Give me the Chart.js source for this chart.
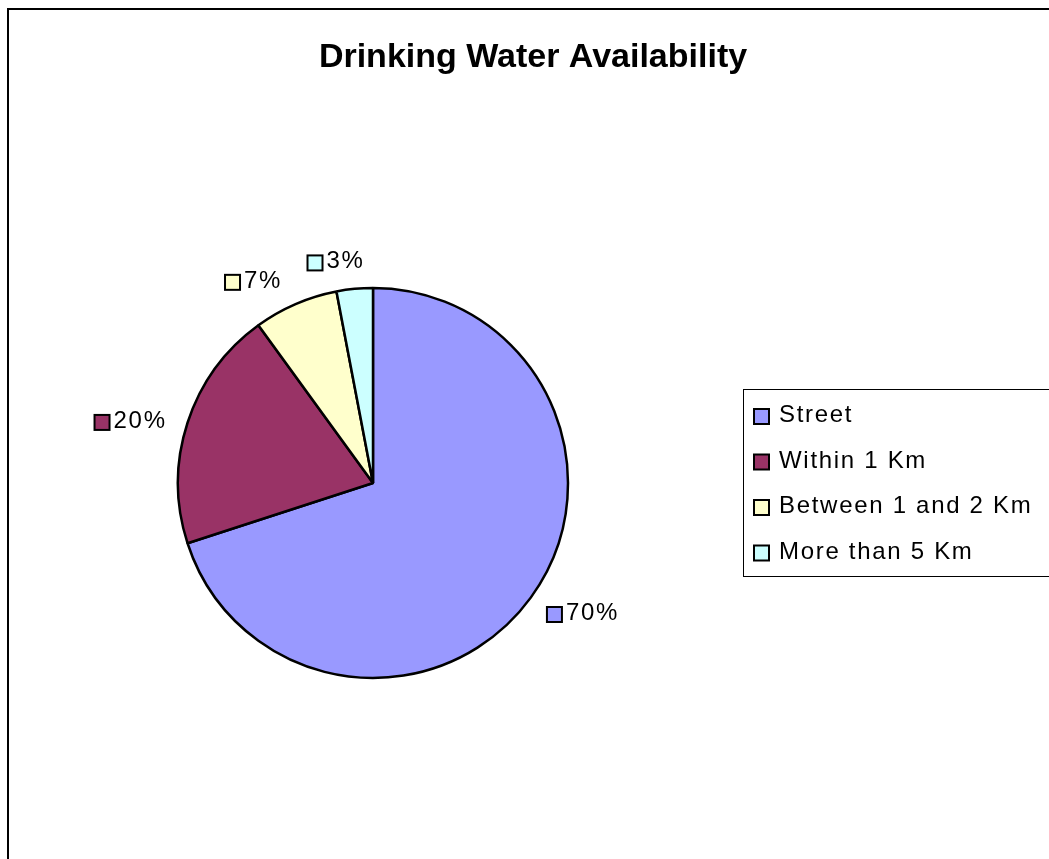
<!DOCTYPE html>
<html>
<head>
<meta charset="utf-8">
<script src="https://cdn.jsdelivr.net/npm/chart.js@4/dist/chart.umd.min.js"></script>
<style>
  html, body { margin: 0; padding: 0; background: #ffffff; }
  #wrap { width: 1049px; height: 859px; }
</style>
</head>
<body>
<div id="wrap"><canvas id="c" width="1049" height="859"></canvas></div>
<script>
const chartTitle = 'Drinking Water Availability';
const categories = ['Street', 'Within 1 Km', 'Between 1 and 2 Km', 'More than 5 Km'];
const shares = [70, 20, 7, 3];
const sliceColors = ['#9999FF', '#993366', '#FFFFCC', '#CCFFFF'];
const valueLabels = shares.map(v => v + '%');

const FONT = '"Liberation Sans", Arial, sans-serif';

const decorPlugin = {
  id: 'decor',
  beforeDraw(chart) {
    const ctx = chart.ctx;
    ctx.save();
    ctx.fillStyle = '#ffffff';
    ctx.fillRect(0, 0, chart.width, chart.height);
    ctx.strokeStyle = '#000000';
    ctx.lineWidth = 2;
    ctx.strokeRect(8, 9, 1200, 1000);
    ctx.restore();
  },
  afterDraw(chart) {
    const ctx = chart.ctx;
    ctx.save();
    // title
    ctx.fillStyle = '#000000';
    ctx.font = 'bold 34px ' + FONT;
    ctx.textAlign = 'center';
    ctx.textBaseline = 'middle';
    ctx.fillText(chartTitle, 533, 58);

    // legend box
    ctx.lineWidth = 1;
    ctx.strokeStyle = '#000000';
    ctx.strokeRect(743.5, 389.5, 400, 187);
    ctx.font = '24px ' + FONT;
    ctx.textAlign = 'left';
    ctx.textBaseline = 'alphabetic';
    try { ctx.letterSpacing = '1.7px'; } catch (e) {}
    categories.forEach((lab, i) => {
      const y = 422 + i * 45.5;
      ctx.fillStyle = sliceColors[i];
      ctx.fillRect(754, y - 13, 15, 15);
      ctx.lineWidth = 2;
      ctx.strokeStyle = '#000000';
      ctx.strokeRect(754, y - 13, 15, 15);
      ctx.fillStyle = '#000000';
      ctx.fillText(lab, 779, y);
    });

    // data labels
    const meta = chart.getDatasetMeta(0);
    meta.data.forEach((arc, i) => {
      const p = arc.getProps(['x', 'y', 'startAngle', 'endAngle', 'outerRadius'], true);
      const mid = (p.startAngle + p.endAngle) / 2;
      const c = Math.cos(mid), s = Math.sin(mid);
      const ax = p.x + c * (p.outerRadius + 20);
      const ay = p.y + s * (p.outerRadius + 18);
      const tw = ctx.measureText(valueLabels[i]).width;
      const sq = 15, gap = 4, h = 22;
      const w = sq + gap + tw;
      const cx = ax + Math.sign(c) * (w / 2) * Math.min(1, Math.abs(c) * 4) - (c < 0 ? 6 * Math.abs(s) : 0);
      const cy = ay + s * Math.abs(s) * h / 2 + (s < 0 ? 4 * Math.abs(c) : 0);
      const left = cx - w / 2;
      const base = cy + 8;
      ctx.fillStyle = sliceColors[i];
      ctx.fillRect(left, base - 13, sq, sq);
      ctx.lineWidth = 2;
      ctx.strokeStyle = '#000000';
      ctx.strokeRect(left, base - 13, sq, sq);
      ctx.fillStyle = '#000000';
      ctx.fillText(valueLabels[i], left + sq + gap, base);
    });
    ctx.restore();
  }
};

new Chart(document.getElementById('c'), {
  type: 'pie',
  data: {
    labels: categories,
    datasets: [{
      data: shares,
      backgroundColor: sliceColors,
      borderColor: '#000000',
      borderWidth: 2.5
    }]
  },
  options: {
    responsive: false,
    animation: false,
    radius: 195,
    layout: { padding: { left: 168, right: 471, top: 273, bottom: 166 } },
    plugins: {
      legend: { display: false },
      title: { display: false },
      tooltip: { enabled: false }
    }
  },
  plugins: [decorPlugin]
});
</script>
</body>
</html>
